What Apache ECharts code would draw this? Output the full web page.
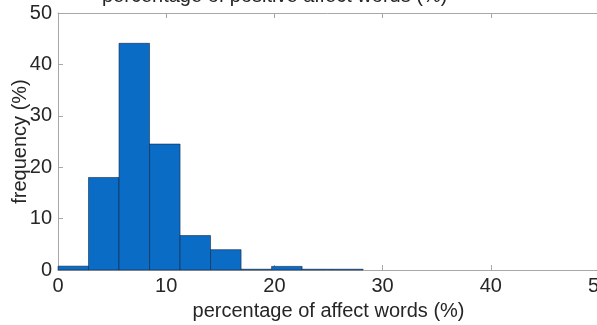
<!DOCTYPE html>
<html>
<head>
<meta charset="utf-8">
<script src="https://cdn.jsdelivr.net/npm/echarts@6/dist/echarts.min.js"></script>
<style>
  html, body { margin: 0; padding: 0; background: #fff; }
  #chart { width: 597px; height: 325px; }
</style>
</head>
<body>
<div id="chart"></div>
<script>
// Histogram bins: left/right edges (% of affect words) and frequency (%) per bin
const binLeft  = [0, 2.82, 5.64, 8.46, 11.28, 14.10, 16.92, 19.74, 22.56, 25.38];
const binRight = [2.82, 5.64, 8.46, 11.28, 14.10, 16.92, 19.74, 22.56, 25.38, 28.20];
const frequency = [0.75, 18.0, 44.1, 24.5, 6.7, 3.95, 0.15, 0.7, 0.15, 0.15];

const xTicks = [0, 10, 20, 30, 40, 50];
const yTicks = [0, 10, 20, 30, 40, 50];

const titleText = 'percentage of positive affect words (%)';
const xLabel = 'percentage of affect words (%)';
const yLabel = 'frequency (%)';

const binData = frequency.map((f, i) => [binLeft[i], binRight[i], f]);

const textColor = '#262626';
const axisColor = '#a8a8a8';
const font = 'Liberation Sans, Arial, Helvetica, sans-serif';

const chart = echarts.init(document.getElementById('chart'), null, { renderer: 'canvas' });

chart.setOption({
  animation: false,
  title: {
    text: titleText,
    left: 97,
    top: -19,
    textStyle: { fontFamily: font, fontSize: 20, fontWeight: 'normal', color: textColor }
  },
  grid: { left: 58, right: -2, top: 13, bottom: 55, outerBoundsMode: 'none', containLabel: false },
  xAxis: [
    {
      type: 'value', min: xTicks[0], max: xTicks[xTicks.length - 1], interval: 10,
      name: xLabel, nameLocation: 'middle', nameGap: 31, nameMoveOverlap: false,
      nameTextStyle: { fontFamily: font, fontSize: 20, color: textColor },
      axisLine: { show: true, lineStyle: { color: axisColor, width: 1 } },
      axisTick: { show: true, inside: true, length: 5, lineStyle: { color: axisColor } },
      axisLabel: { fontFamily: font, fontSize: 20, color: textColor, margin: 6 },
      splitLine: { show: false }
    },
    {
      type: 'value', position: 'top', min: xTicks[0], max: xTicks[xTicks.length - 1], interval: 10,
      axisLine: { show: true, lineStyle: { color: axisColor, width: 1 } },
      axisTick: { show: true, inside: true, length: 5, lineStyle: { color: axisColor } },
      axisLabel: { show: false },
      splitLine: { show: false }
    }
  ],
  yAxis: {
    type: 'value', min: yTicks[0], max: yTicks[yTicks.length - 1], interval: 10,
    name: yLabel, nameLocation: 'middle', nameGap: 28, nameRotate: 90, nameMoveOverlap: false,
    nameTextStyle: { fontFamily: font, fontSize: 20, color: textColor },
    axisLine: { show: true, lineStyle: { color: axisColor, width: 1 } },
    axisTick: { show: true, inside: true, length: 5, lineStyle: { color: axisColor } },
    axisLabel: { fontFamily: font, fontSize: 20, color: textColor, margin: 6 },
    splitLine: { show: false }
  },
  series: [{
    type: 'custom',
    xAxisIndex: 0,
    encode: { x: [0, 1], y: 2 },
    data: binData,
    renderItem: function (params, api) {
      const p0 = api.coord([api.value(0), 0]);
      const p1 = api.coord([api.value(1), api.value(2)]);
      return {
        type: 'rect',
        shape: { x: p0[0], y: p1[1], width: p1[0] - p0[0], height: p0[1] - p1[1] },
        style: { fill: '#0a6cc4', stroke: 'rgba(20,40,70,0.75)', lineWidth: 0.8 }
      };
    }
  }]
});
</script>
</body>
</html>
